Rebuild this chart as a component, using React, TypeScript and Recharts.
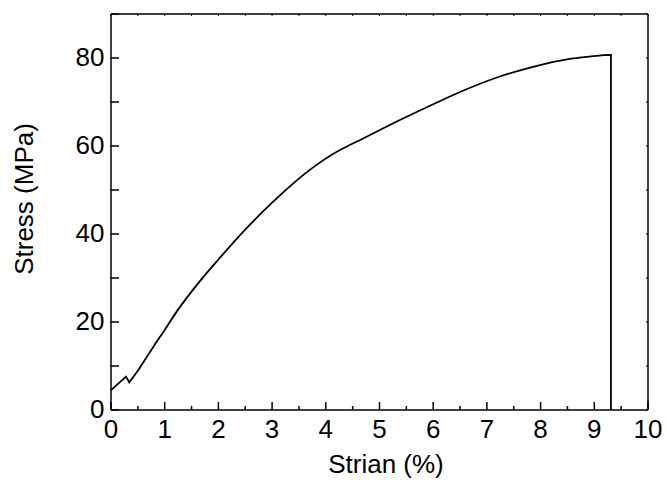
import React from 'react';
import { LineChart, Line, XAxis, YAxis } from 'recharts';

// values
const strain = [0, 0.28, 0.34, 0.51, 0.79, 1.0, 1.22, 1.5, 1.78, 2.0, 2.46, 2.99, 3.46, 3.77, 4.11, 4.76, 5.38, 6.0, 6.62, 7.24, 7.86, 8.49, 8.9, 9.31, 9.31];
const stress = [4.5, 7.6, 6.3, 9.1, 14.4, 18.2, 22.3, 26.9, 31.1, 34.2, 40.5, 47.0, 52.2, 55.2, 58.0, 62.1, 65.9, 69.5, 72.9, 75.8, 78.0, 79.7, 80.3, 80.7, 0];

// the first points (small load drop near the start) are sharp, the rest is smooth
const SERRATION_END = 4;

const xTicks = [0, 0.5, 1, 1.5, 2, 2.5, 3, 3.5, 4, 4.5, 5, 5.5, 6, 6.5, 7, 7.5, 8, 8.5, 9, 9.5, 10];
const xLabels = [0, 1, 2, 3, 4, 5, 6, 7, 8, 9, 10];
const yTicks = [0, 10, 20, 30, 40, 50, 60, 70, 80, 90];
const yLabels = [0, 20, 40, 60, 80];

const data = strain.map((s, i) => ({ strain: s, stress: stress[i] }));
const startData = data.slice(0, SERRATION_END);
const mainData = data.slice(SERRATION_END - 1);

const FONT = '"Liberation Sans", Arial, sans-serif';
const AXIS = { stroke: '#000', strokeWidth: 1.5 };

// plot frame edges
const LEFT = 111;
const RIGHT = 648;
const TOP = 14;
const BOTTOM = 410;

const BottomTick = (props: any) => {
    const { x, payload } = props;
    const major = xLabels.includes(payload.value);
    return (
        <g>
            <line x1={x} y1={BOTTOM} x2={x} y2={BOTTOM - (major ? 8 : 4)} stroke="#000" strokeWidth={1.5} />
            {major && (
                <text x={x} y={BOTTOM + 28} textAnchor="middle" fontSize={26} fontFamily={FONT} fill="#000">
                    {payload.value}
                </text>
            )}
        </g>
    );
};

const LeftTick = (props: any) => {
    const { y, payload } = props;
    const labelled = yLabels.includes(payload.value);
    return (
        <g>
            <line x1={LEFT} y1={y} x2={LEFT + 8} y2={y} stroke="#000" strokeWidth={1.5} />
            {labelled && (
                <text x={LEFT - 6.5} y={y + 7.5} textAnchor="end" fontSize={26} fontFamily={FONT} fill="#000">
                    {payload.value}
                </text>
            )}
        </g>
    );
};

const TopTick = (props: any) => {
    const { x } = props;
    return <line x1={x} y1={TOP} x2={x} y2={TOP + 2} stroke="#000" strokeWidth={1} />;
};

const RightTick = (props: any) => {
    const { y } = props;
    return <line x1={RIGHT} y1={y} x2={RIGHT - 2} y2={y} stroke="#000" strokeWidth={1} />;
};

const YTitle = () => (
    <text x={33} y={199} transform="rotate(-90, 33, 199)" textAnchor="middle" fontSize={26} fontFamily={FONT} fill="#000">
        Stress (MPa)
    </text>
);

const XTitle = () => (
    <text x={386} y={473} textAnchor="middle" fontSize={26} fontFamily={FONT} fill="#000">
        Strian (%)
    </text>
);

export default function App() {
    return (
        <div style={{ position: 'absolute', left: 0, top: 0, width: 667, height: 486, background: '#fff' }}>
            <LineChart width={667} height={486} data={data} margin={{ top: TOP - 1, right: 667 - RIGHT - 1, left: 0, bottom: 0 }}>
                <XAxis
                    xAxisId="b"
                    dataKey="strain"
                    type="number"
                    domain={[0, 10]}
                    ticks={xTicks}
                    interval={0}
                    height={486 - BOTTOM}
                    tickSize={0}
                    tickMargin={0}
                    tickLine={false}
                    axisLine={AXIS}
                    tick={<BottomTick />}
                    label={{ content: <XTitle /> }}
                />
                <XAxis
                    xAxisId="t"
                    orientation="top"
                    dataKey="strain"
                    type="number"
                    domain={[0, 10]}
                    ticks={xTicks}
                    interval={0}
                    height={1}
                    tickSize={0}
                    tickMargin={0}
                    tickLine={false}
                    axisLine={AXIS}
                    tick={<TopTick />}
                />
                <YAxis
                    yAxisId="l"
                    type="number"
                    domain={[0, 90]}
                    ticks={yTicks}
                    interval={0}
                    width={LEFT}
                    tickSize={0}
                    tickMargin={0}
                    tickLine={false}
                    axisLine={AXIS}
                    tick={<LeftTick />}
                    label={{ content: <YTitle /> }}
                />
                <YAxis
                    yAxisId="r"
                    orientation="right"
                    type="number"
                    domain={[0, 90]}
                    ticks={yTicks}
                    interval={0}
                    width={1}
                    tickSize={0}
                    tickMargin={0}
                    tickLine={false}
                    axisLine={AXIS}
                    tick={<RightTick />}
                />
                <Line
                    xAxisId="b"
                    yAxisId="l"
                    data={startData}
                    type="linear"
                    dataKey="stress"
                    stroke="#000"
                    strokeWidth={1.8}
                    dot={false}
                    isAnimationActive={false}
                />
                <Line
                    xAxisId="b"
                    yAxisId="l"
                    data={mainData}
                    type="monotone"
                    dataKey="stress"
                    stroke="#000"
                    strokeWidth={1.8}
                    dot={false}
                    isAnimationActive={false}
                />
                <Line
                    xAxisId="t"
                    yAxisId="r"
                    type="linear"
                    dataKey="stress"
                    stroke="none"
                    dot={false}
                    isAnimationActive={false}
                />
            </LineChart>
        </div>
    );
}
